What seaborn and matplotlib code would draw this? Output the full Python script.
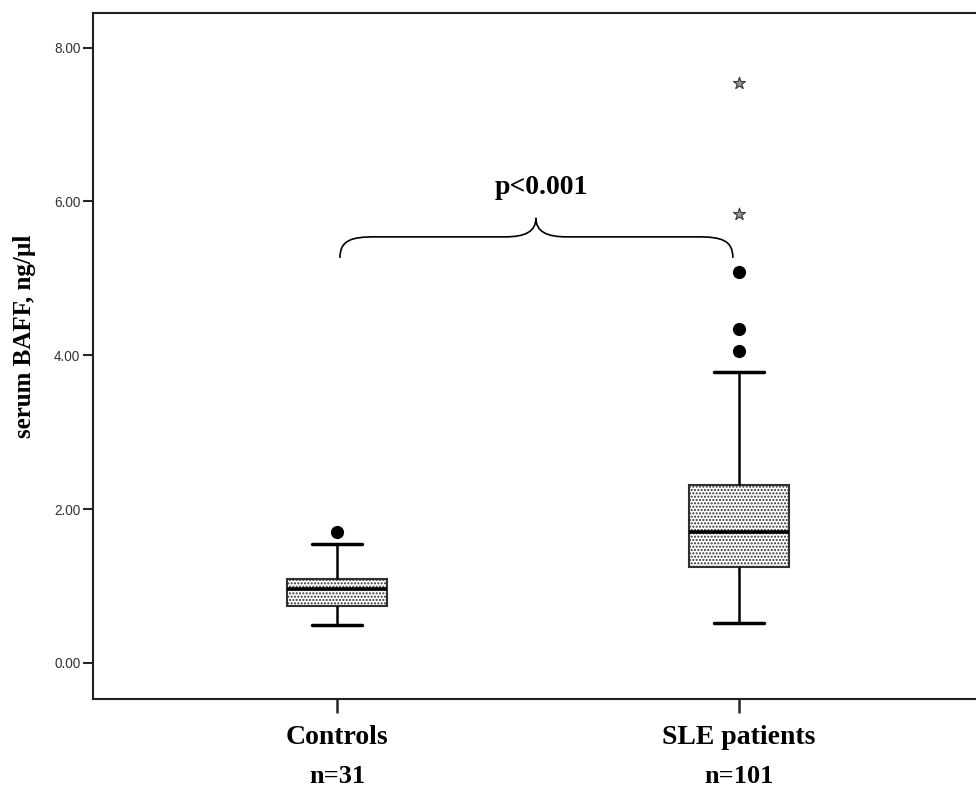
import numpy as np
import pandas as pd
import seaborn as sns
import matplotlib.pyplot as plt
from matplotlib.path import Path
from matplotlib.patches import PathPatch

# 組別與樣本數
groups = ['Controls', 'SLE patients']
group_n = ['n=31', 'n=101']

# 箱形圖的五數摘要 (下鬚, Q1, 中位數, Q3, 上鬚)
ctrl_summary = [0.49, 0.74, 0.96, 1.09, 1.55]
sle_summary = [0.52, 1.25, 1.70, 2.31, 3.78]

# 離群值 (圓點) 與極端值 (星號)
ctrl_outliers = [1.70]
sle_outliers = [4.06, 4.34, 5.08]
sle_extremes = [5.84, 7.54]

y_ticks = [0, 2, 4, 6, 8]

sns.set_theme(style='white')
plt.rcParams['hatch.color'] = '#707070'
plt.rcParams['hatch.linewidth'] = 1.0
plt.rcParams['text.color'] = 'black'
plt.rcParams['axes.labelcolor'] = 'black'

serif = ['Liberation Serif', 'DejaVu Serif']

df = pd.DataFrame({
    'group': [groups[0]] * len(ctrl_summary) + [groups[1]] * len(sle_summary),
    'baff': ctrl_summary + sle_summary,
})

fig = plt.figure(figsize=(9.76, 7.92), dpi=100)
ax = fig.add_axes([93 / 976, 93 / 792, 883 / 976, 686 / 792])

sns.boxplot(data=df, x='group', y='baff', order=groups, ax=ax,
            whis=(0, 100), showfliers=False, width=0.25,
            color='white', linecolor='black', linewidth=1.5,
            boxprops=dict(edgecolor='#303030', linewidth=1.5),
            whiskerprops=dict(linewidth=1.8),
            capprops=dict(linewidth=2.5),
            medianprops=dict(color='black', linewidth=2.6))

for patch in ax.patches:
    patch.set_hatch('.....')

# 離群值
out_groups = [groups[0]] * len(ctrl_outliers) + [groups[1]] * len(sle_outliers)
sns.stripplot(x=out_groups, y=ctrl_outliers + sle_outliers, order=groups,
              jitter=False, color='black', size=9.5, marker='o', ax=ax)
sns.stripplot(x=[groups[1]] * len(sle_extremes), y=sle_extremes, order=groups,
              jitter=False, color='#9a9a9a', edgecolor='#404040', linewidth=0.9,
              size=9, marker='*', ax=ax)

ax.set_xlim(-0.607, 1.59)
ax.set_ylim(-0.468, 8.45)
ax.set_yticks(y_ticks)
ax.set_yticklabels([f'{v:.2f}' for v in y_ticks], fontsize=9.8,
                   color='#333333', family=['Liberation Sans'])
ax.tick_params(axis='y', direction='out', length=7, width=1.5, left=True,
               pad=2)
ax.tick_params(axis='x', direction='out', length=10, width=1.8, bottom=True,
               pad=9)
ax.set_xticks(range(len(groups)))
ax.set_xticklabels(groups, fontsize=20, fontweight='bold', family=serif,
                   color='black')

for side in ['left', 'bottom', 'top']:
    ax.spines[side].set_color('#202020')
    ax.spines[side].set_linewidth(1.5)
ax.spines['right'].set_visible(False)

ax.set_xlabel('')
ax.set_ylabel('serum BAFF, ng/µl', fontsize=18, fontweight='bold',
              family=serif)
ax.yaxis.set_label_coords(-0.064, 0.528)

# 樣本數
for i, n in enumerate(group_n):
    ax.text(i, -0.1224, n, transform=ax.get_xaxis_transform(),
            ha='center', va='baseline', fontsize=19, fontweight='bold',
            family=serif)

# 大括號 (像素座標轉成資料座標)


def px(x, y):
    return ((x - 337) / 402, (663 - y) / 76.9)


brace_px = [(340, 258), (340, 240), (352, 237), (375, 237),
            (505, 237),
            (525, 237), (536, 232), (536, 218),
            (536, 232), (547, 237), (567, 237),
            (698, 237),
            (721, 237), (733, 240), (733, 258)]
codes = [Path.MOVETO, Path.CURVE4, Path.CURVE4, Path.CURVE4,
         Path.LINETO,
         Path.CURVE4, Path.CURVE4, Path.CURVE4,
         Path.CURVE4, Path.CURVE4, Path.CURVE4,
         Path.LINETO,
         Path.CURVE4, Path.CURVE4, Path.CURVE4]
brace = Path([px(*p) for p in brace_px], codes)
ax.add_patch(PathPatch(brace, facecolor='none', edgecolor='black', lw=1.2))

ax.text(px(541, 194)[0], px(541, 194)[1], 'p<0.001', ha='center',
        va='baseline', fontsize=20, fontweight='bold', family=serif)

fig.savefig('out.png', dpi=100)
